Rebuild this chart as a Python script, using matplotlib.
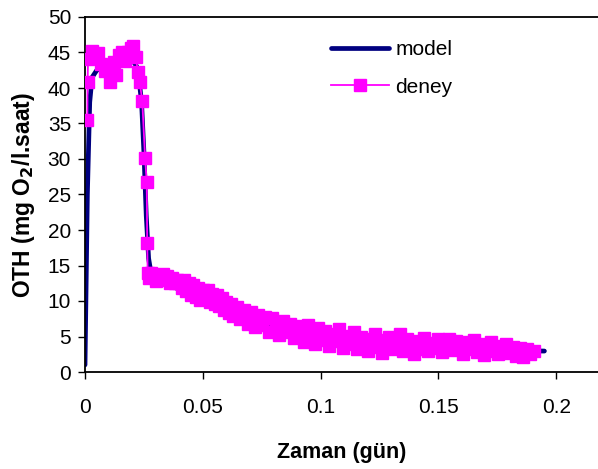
import matplotlib
matplotlib.use('Agg')
import matplotlib.pyplot as plt

plt.rcParams['font.family'] = ['Liberation Sans', 'DejaVu Sans']

# model curve
model_x = [0.0, 0.001, 0.002, 0.003, 0.005, 0.010, 0.015, 0.020, 0.022, 0.023,
           0.024, 0.025, 0.026, 0.027, 0.028, 0.030, 0.035, 0.041, 0.050, 0.058,
           0.070, 0.080, 0.090, 0.100, 0.110, 0.120, 0.130, 0.137, 0.150, 0.170,
           0.195]
model_y = [1.0, 25.0, 38.0, 41.5, 42.5, 43.2, 43.8, 44.0, 43.0, 41.0,
           38.0, 31.0, 22.0, 16.0, 14.0, 13.2, 12.7, 11.3, 10.2, 9.0,
           7.5, 6.5, 5.8, 5.2, 4.7, 4.2, 3.7, 3.4, 3.2, 3.05,
           2.95]

# experimental data (deney)
deney_x = [0.0010, 0.0011, 0.0013, 0.0028, 0.0040, 0.0055, 0.0070, 0.0085, 0.0095, 0.0108,
           0.0122, 0.0133, 0.0145, 0.0155, 0.0170, 0.0182, 0.0195, 0.0205, 0.0215, 0.0225,
           0.0232, 0.0243, 0.0255, 0.0262, 0.0264, 0.0266, 0.0270, 0.0280, 0.0290, 0.0300,
           0.0310, 0.0320, 0.0330, 0.0340, 0.0350, 0.0360, 0.0370, 0.0380, 0.0390, 0.0400,
           0.0410, 0.0420, 0.0430, 0.0440, 0.0450, 0.0460, 0.0470, 0.0480, 0.0490, 0.0500,
           0.0510, 0.0520, 0.0530, 0.0540, 0.0550, 0.0560, 0.0570, 0.0580, 0.0590, 0.0600,
           0.0610, 0.0620, 0.0630, 0.0645, 0.0660, 0.0675, 0.0690, 0.0705, 0.0720, 0.0735,
           0.0750, 0.0765, 0.0780, 0.0795, 0.0810, 0.0825, 0.0840, 0.0855, 0.0870, 0.0885,
           0.0900, 0.0915, 0.0930, 0.0945, 0.0960, 0.0975, 0.0990, 0.1005, 0.1020, 0.1035,
           0.1050, 0.1065, 0.1080, 0.1095, 0.1110, 0.1125, 0.1140, 0.1155, 0.1170, 0.1185,
           0.1200, 0.1215, 0.1230, 0.1245, 0.1260, 0.1275, 0.1290, 0.1305, 0.1320, 0.1335,
           0.1350, 0.1365, 0.1380, 0.1395, 0.1410, 0.1425, 0.1440, 0.1455, 0.1470, 0.1485,
           0.1500, 0.1515, 0.1530, 0.1545, 0.1560, 0.1575, 0.1590, 0.1605, 0.1620, 0.1635,
           0.1650, 0.1665, 0.1680, 0.1695, 0.1710, 0.1725, 0.1740, 0.1755, 0.1770, 0.1785,
           0.1800, 0.1815, 0.1830, 0.1845, 0.1860, 0.1875, 0.1890, 0.1905]
deney_y = [35.5, 40.8, 44.1, 45.2, 44.6, 44.9, 43.4, 42.4, 43.1, 40.9,
           43.6, 41.9, 44.6, 45.1, 43.8, 45.0, 45.6, 45.9, 44.4, 42.2,
           40.9, 38.2, 30.2, 26.8, 18.2, 14.0, 13.2, 13.9, 13.4, 12.8,
           13.7, 13.1, 13.8, 12.9, 13.5, 12.6, 13.3, 12.5, 13.0, 12.6,
           11.8, 12.9, 11.4, 12.5, 10.9, 12.2, 10.6, 11.9, 10.2, 11.6,
           10.4, 11.5, 9.8, 11.0, 9.6, 10.8, 9.3, 10.4, 8.7, 9.9,
           8.3, 9.6, 7.9, 9.2, 7.5, 8.8, 6.8, 8.4, 6.3, 8.0,
           6.6, 7.8, 5.7, 7.6, 6.1, 5.2, 7.2, 5.6, 6.8, 4.8,
           6.5, 5.3, 4.2, 6.6, 5.0, 3.9, 6.2, 4.5, 5.8, 3.6,
           5.4, 4.3, 6.0, 3.4, 5.1, 4.0, 5.7, 3.2, 4.9, 3.8,
           2.9, 4.7, 5.4, 3.5, 2.7, 4.5, 5.0, 3.3, 4.1, 5.3,
           3.0, 4.6, 3.7, 2.6, 4.4, 3.3, 4.8, 2.9, 4.1, 3.4,
           4.6, 2.8, 3.9, 4.7, 3.1, 4.3, 3.6, 2.6, 4.2, 3.3,
           4.5, 2.8, 3.9, 2.4, 3.7, 4.2, 3.0, 2.5, 3.6, 4.0,
           2.7, 3.5, 2.3, 3.4, 2.1, 3.2, 2.6, 3.0]

x_ticks = [0, 0.05, 0.1, 0.15, 0.2]
x_tick_labels = ['0', '0.05', '0.1', '0.15', '0.2']
y_ticks = list(range(0, 55, 5))

fig = plt.figure(figsize=(5.98, 4.69), dpi=100)
ax = fig.add_axes([85 / 598, 1 - 372 / 469, 1 - 85 / 598, (372 - 17) / 469])

ax.plot(model_x, model_y, color='#000080', linewidth=3.4, solid_capstyle='round',
        label='model', zorder=2)
ax.plot(deney_x, deney_y, color='#FF00FF', linewidth=1.3, marker='s', markersize=8,
        markeredgecolor='#FF00FF', label='deney', zorder=3)

ax.set_xlim(0, (598 - 85) / 117.8 * 0.05)
ax.set_ylim(0, 50)
ax.set_xticks(x_ticks)
ax.set_xticklabels(x_tick_labels)
ax.set_yticks(y_ticks)

for side in ['left', 'bottom', 'top']:
    ax.spines[side].set_linewidth(1.3)
ax.spines['right'].set_visible(False)

ax.tick_params(axis='both', direction='out', length=5, width=1, labelsize=15)
ax.tick_params(axis='x', pad=14)
ax.tick_params(axis='y', pad=5)

ax.set_xlabel('Zaman (gün)', fontsize=15.5, fontweight='bold', labelpad=18)
ax.set_ylabel('OTH (mg O$_\\mathbf{2}$/l.saat)', fontsize=16.5, fontweight='bold', labelpad=8)

ax.legend(loc='upper left', bbox_to_anchor=(331 / 598, 1 - 40 / 469),
          bbox_transform=fig.transFigure, frameon=False, fontsize=15,
          borderpad=0, borderaxespad=0, handlelength=2.8, handletextpad=0.3,
          labelspacing=0.9, numpoints=1)

fig.savefig('out.png', dpi=100)
